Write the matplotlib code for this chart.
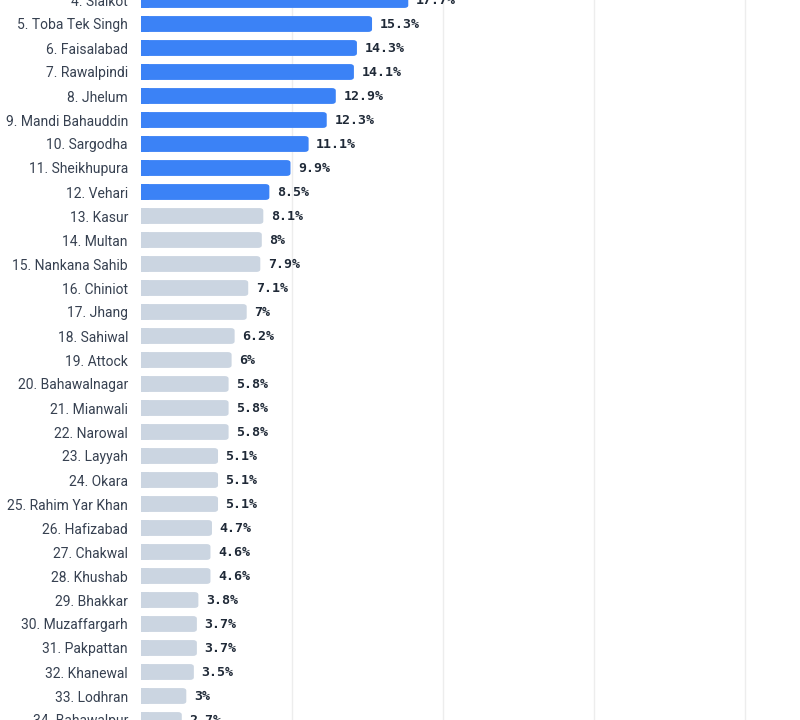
import matplotlib.pyplot as plt
from matplotlib.patches import FancyBboxPatch

districts = ["Sialkot", "Toba Tek Singh", "Faisalabad", "Rawalpindi", "Jhelum",
             "Mandi Bahauddin", "Sargodha", "Sheikhupura", "Vehari", "Kasur",
             "Multan", "Nankana Sahib", "Chiniot", "Jhang", "Sahiwal", "Attock",
             "Bahawalnagar", "Mianwali", "Narowal", "Layyah", "Okara",
             "Rahim Yar Khan", "Hafizabad", "Chakwal", "Khushab", "Bhakkar",
             "Muzaffargarh", "Pakpattan", "Khanewal", "Lodhran", "Bahawalpur"]
values = [17.7, 15.3, 14.3, 14.1, 12.9, 12.3, 11.1, 9.9, 8.5, 8.1, 8.0, 7.9,
          7.1, 7.0, 6.2, 6.0, 5.8, 5.8, 5.8, 5.1, 5.1, 5.1, 4.7, 4.6, 4.6,
          3.8, 3.7, 3.7, 3.5, 3.0, 2.7]
first_rank = 4
n_highlight = 9

BLUE = "#3b82f6"
GREY = "#cbd5e1"

fig = plt.figure(figsize=(8, 7.2), dpi=100)
ax = fig.add_axes([141 / 800, 0, 659 / 800, 1])

bar_h = 0.66
for i, (name, v) in enumerate(zip(districts, values)):
    rank = first_rank + i
    col = BLUE if i < n_highlight else GREY
    # square left edge, rounded right edge
    ax.add_patch(FancyBboxPatch((0, rank - bar_h / 2), v, bar_h,
                                boxstyle="round,pad=0,rounding_size=0.25",
                                mutation_aspect=0.45, fc=col, ec="none", zorder=2))
    ax.add_patch(plt.Rectangle((0, rank - bar_h / 2), min(v, 0.5), bar_h,
                               fc=col, ec="none", zorder=2))
    txt = f"{v:g}%"
    ax.text(v + 0.5, rank, txt, ha="left", va="center", fontsize=9.5,
            fontweight="bold", family="DejaVu Sans Mono", color="#1f2937", zorder=3)

ax.set_xlim(0, 659 / 15.1)
ax.set_ylim(5 + 697 / 24.14, 5 - 23 / 24.14)
ax.set_yticks([first_rank + i for i in range(len(districts))])
ax.set_yticklabels([f"{first_rank + i}. {d}" for i, d in enumerate(districts)],
                   fontsize=10, family="Roboto", color="#374151")
ax.tick_params(axis="y", length=0, pad=9.4)
ax.tick_params(axis="x", length=0, labelbottom=False)
ax.set_xticks([10, 20, 30, 40])
ax.grid(axis="x", color="#ededed", linewidth=1, zorder=0)
for s in ax.spines.values():
    s.set_visible(False)

fig.savefig("out.png", dpi=100)
